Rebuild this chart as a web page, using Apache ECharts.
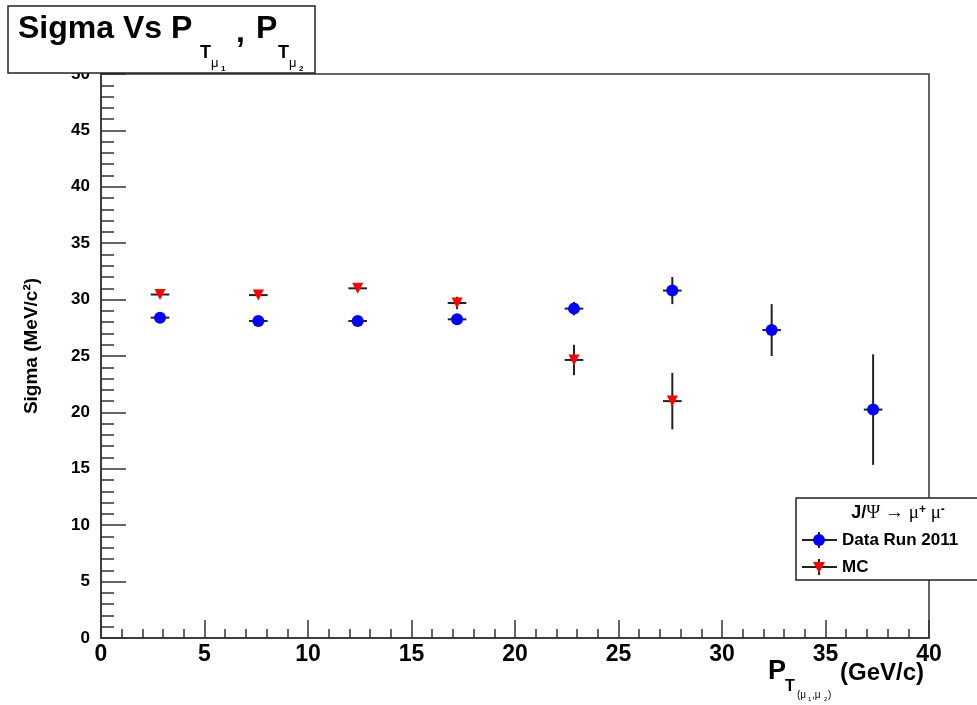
<!DOCTYPE html>
<html>
<head>
<meta charset="utf-8">
<script src="https://cdn.jsdelivr.net/npm/echarts@6/dist/echarts.min.js"></script>
<style>html,body{margin:0;padding:0;background:#fff;}#c{width:977px;height:705px;}</style>
</head>
<body>
<div id="c"></div>
<script>
// ---- data ----
var dataX   = [2.85, 7.6, 12.4, 17.2, 22.85, 27.6, 32.4, 37.3];
var dataY   = [28.4, 28.1, 28.1, 28.25, 29.2, 30.8, 27.3, 20.25];
var dataErr = [0.3, 0.3, 0.3, 0.3, 0.6, 1.2, 2.3, 4.9];
var mcX     = [2.85, 7.6, 12.4, 17.2, 22.85, 27.6];
var mcY     = [30.45, 30.4, 31.0, 29.7, 24.65, 21.0];
var mcErr   = [0.2, 0.2, 0.2, 0.55, 1.35, 2.5];
var xErr    = 0.45;
var xTicks  = [0, 5, 10, 15, 20, 25, 30, 35, 40];
var yTicks  = [0, 5, 10, 15, 20, 25, 30, 35, 40, 45, 50];

var FONT = 'Liberation Sans, Arial, Helvetica, sans-serif';
var SERIF = 'Liberation Serif, Times New Roman, serif';
var chart = echarts.init(document.getElementById('c'), null, {renderer: 'canvas'});

function triples(xs, ys, es) {
  return xs.map(function (x, i) { return [x, ys[i], es[i]]; });
}
function errRender(params, api) {
  var x = api.value(0), y = api.value(1), e = api.value(2);
  var top = api.coord([x, y + e]);
  var bot = api.coord([x, y - e]);
  var l = api.coord([x - xErr, y]);
  var r = api.coord([x + xErr, y]);
  var st = {stroke: '#222', lineWidth: 2};
  return {
    type: 'group',
    children: [
      {type: 'line', shape: {x1: top[0], y1: top[1], x2: bot[0], y2: bot[1]}, style: st},
      {type: 'line', shape: {x1: l[0], y1: l[1], x2: r[0], y2: r[1]}, style: st}
    ]
  };
}

function txt(x, y, s, size, opts) {
  opts = opts || {};
  return {
    type: 'text', x: x, y: y, z: 100, rotation: opts.rot || 0,
    style: {
      text: s, fill: '#000',
      font: (opts.weight || 'bold') + ' ' + size + 'px ' + (opts.family || FONT),
      textAlign: opts.align || 'left', textVerticalAlign: 'middle'
    }
  };
}

var graphics = [
  // title box
  {type: 'rect', shape: {x: 8, y: 6, width: 307, height: 67}, z: 90,
   style: {fill: '#fff', stroke: '#222', lineWidth: 1.5}},
  txt(18, 29, 'Sigma Vs P', 32),
  txt(200, 53, 'T', 18),
  txt(211, 63, 'μ', 13, {weight: 'normal'}),
  txt(221, 69, '1', 8),
  txt(236, 33, ',', 32),
  txt(256, 29, 'P', 32),
  txt(278, 53, 'T', 18),
  txt(289, 63, 'μ', 13, {weight: 'normal'}),
  txt(299, 69, '2', 8),
  // x axis title
  txt(768, 672, 'P', 27),
  txt(785, 687, 'T', 16),
  txt(797, 695, '(μ', 10, {weight: 'normal'}),
  txt(808, 699, '1', 6, {weight: 'normal'}),
  txt(812, 695, ',μ', 10, {weight: 'normal'}),
  txt(824, 699, '2', 6, {weight: 'normal'}),
  txt(828, 695, ')', 10, {weight: 'normal'}),
  txt(840, 673, '(GeV/c)', 24),
  // y axis title
  txt(32, 346, 'Sigma (MeV/c²)', 19, {rot: Math.PI / 2, align: 'center'}),
  // legend box
  {type: 'rect', shape: {x: 796, y: 498, width: 190, height: 82}, z: 90,
   style: {fill: '#fff', stroke: '#222', lineWidth: 1.5}},
  {type: 'text', x: 898, y: 513, z: 100, style: {
    text: '{a|J/}{b|Ψ → μ}{s|+}{b| μ}{s|-}',
    textAlign: 'center', textVerticalAlign: 'middle',
    rich: {
      a: {fontFamily: FONT, fontWeight: 'bold', fontSize: 18, fill: '#000', color: '#000'},
      b: {fontFamily: SERIF, fontWeight: 'normal', fontSize: 19, fill: '#000', color: '#000'},
      s: {fontFamily: FONT, fontWeight: 'bold', fontSize: 12, fill: '#000', color: '#000', verticalAlign: 'top'}
    }
  }},
  {type: 'line', z: 100, shape: {x1: 802, y1: 540, x2: 837, y2: 540}, style: {stroke: '#222', lineWidth: 2}},
  {type: 'line', z: 100, shape: {x1: 819, y1: 532, x2: 819, y2: 548}, style: {stroke: '#222', lineWidth: 2}},
  {type: 'circle', z: 101, shape: {cx: 819, cy: 540, r: 6}, style: {fill: '#0000ff'}},
  txt(842, 540, 'Data Run 2011', 17),
  {type: 'line', z: 100, shape: {x1: 802, y1: 567, x2: 837, y2: 567}, style: {stroke: '#222', lineWidth: 2}},
  {type: 'line', z: 100, shape: {x1: 819, y1: 559, x2: 819, y2: 575}, style: {stroke: '#222', lineWidth: 2}},
  {type: 'polygon', z: 101, shape: {points: [[813, 562], [825, 562], [819, 573]]}, style: {fill: '#ff0000'}},
  txt(842, 567, 'MC', 17)
];

var option = {
  backgroundColor: '#fff',
  animation: false,
  grid: {left: 101, top: 74, right: 48, bottom: 67, show: true, borderColor: '#333', borderWidth: 1.5, backgroundColor: '#fff'},
  xAxis: {
    type: 'value', min: xTicks[0], max: xTicks[xTicks.length - 1], interval: 5,
    axisLine: {show: true, onZero: false, lineStyle: {color: '#333', width: 1.5}},
    axisTick: {show: true, inside: true, length: 18, lineStyle: {color: '#333', width: 1.5}},
    minorTick: {show: true, splitNumber: 5, length: 9, lineStyle: {color: '#333', width: 1.5}},
    splitLine: {show: false},
    axisLabel: {color: '#000', fontFamily: FONT, fontWeight: 'bold', fontSize: 23, margin: 5}
  },
  yAxis: {
    type: 'value', min: yTicks[0], max: yTicks[yTicks.length - 1], interval: 5,
    axisLine: {show: true, onZero: false, lineStyle: {color: '#333', width: 1.5}},
    axisTick: {show: true, inside: true, length: 25, lineStyle: {color: '#333', width: 1.5}},
    minorTick: {show: true, splitNumber: 5, length: 13, lineStyle: {color: '#333', width: 1.5}},
    splitLine: {show: false},
    axisLabel: {color: '#000', fontFamily: FONT, fontWeight: 'bold', fontSize: 17, margin: 11}
  },
  series: [
    {type: 'custom', name: 'dataErr', renderItem: errRender, data: triples(dataX, dataY, dataErr), z: 3, encode: {x: 0, y: 1}},
    {type: 'custom', name: 'mcErr', renderItem: errRender, data: triples(mcX, mcY, mcErr), z: 3, encode: {x: 0, y: 1}},
    {type: 'scatter', name: 'Data Run 2011', data: dataX.map(function (x, i) { return [x, dataY[i]]; }),
     symbol: 'circle', symbolSize: 12, itemStyle: {color: '#0000ff', opacity: 1}, z: 5},
    {type: 'scatter', name: 'MC', data: mcX.map(function (x, i) { return [x, mcY[i]]; }),
     symbol: 'triangle', symbolRotate: 180, symbolSize: 11, itemStyle: {color: '#ff0000', opacity: 1}, z: 5}
  ],
  graphic: graphics
};
chart.setOption(option);
</script>
</body>
</html>
